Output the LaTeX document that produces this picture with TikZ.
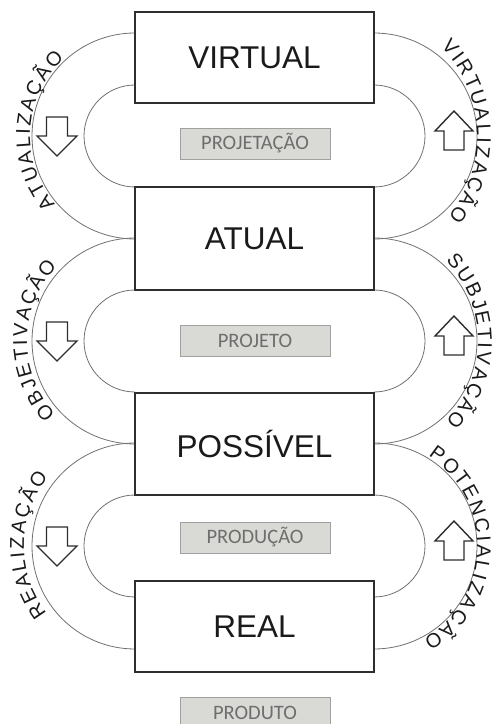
\documentclass[tikz,border=0pt]{standalone}
\usepackage{fontspec}
\setmainfont{Liberation Sans}
\newfontfamily\calfont{Carlito}
\usetikzlibrary{decorations.text}
\definecolor{arcgray}{HTML}{707070}
\definecolor{boxline}{HTML}{2E2E2E}
\definecolor{labfill}{HTML}{D9D9D5}
\definecolor{labline}{HTML}{A0A0A0}
\definecolor{labtext}{HTML}{6E6E6E}
\definecolor{txt}{HTML}{1A1A1A}
\newcommand\arclabelfont{\fontsize{20}{24}\selectfont\color{txt}\kern2.3pt}
\begin{document}
\begin{tikzpicture}[x=1pt,y=1pt,
  stagebox/.style={draw=boxline, line width=1.6pt, fill=white, minimum width=239pt, text=txt, font=\fontsize{31.5}{36}\selectfont, inner sep=0pt},
  tagbox/.style={draw=labline, line width=0.8pt, fill=labfill, minimum width=150pt, minimum height=31pt, text=labtext, font=\calfont\fontsize{20.5}{24}\selectfont, inner sep=0pt},
  loopline/.style={draw=arcgray, line width=0.8pt},
  blockarrow/.style={draw=boxline, line width=1.4pt, fill=white, line join=miter}
]
\useasboundingbox (0,0) rectangle (496,724);

% loops
\foreach \c in {588,383,178}{
  \draw[loopline] (135,\c+103) arc (90:270:103);
  \draw[loopline] (135,\c+51) arc (90:270:51);
  \draw[loopline] (374,\c+103) arc (90:-90:103);
  \draw[loopline] (374,\c+51) arc (90:-90:51);
  \draw[blockarrow] (46.5,\c+19) -- (67.5,\c+19) -- (67.5,\c) -- (77,\c) -- (57,\c-20) -- (37,\c) -- (46.5,\c) -- cycle;
  \draw[blockarrow] (444,\c-14) -- (464,\c-14) -- (464,\c+5) -- (473,\c+5) -- (454,\c+25) -- (435,\c+5) -- (444,\c+5) -- cycle;
}

% stage boxes
\node[stagebox, minimum height=91pt] (virtual) at (254.5,666.5) {VIRTUAL};
\node[stagebox, minimum height=103pt] (atual) at (254.5,485.5) {ATUAL};
\node[stagebox, minimum height=102pt] (possivel) at (254.5,280) {POSSÍVEL};
\node[stagebox, minimum height=91pt] (real) at (254.5,97.5) {REAL};

% tags
\node[tagbox] (projetacao) at (255,580.5) {PROJETAÇÃO};
\node[tagbox] (projeto) at (255,383) {PROJETO};
\node[tagbox] (producao) at (255,186.5) {PRODUÇÃO};
\node[tagbox] (produto) at (255,11.5) {PRODUTO};

% arc labels
\path[decorate, decoration={text along path, text align=center, text={|\arclabelfont|ATUALIZAÇÃO}}]
  ({135+105*cos(247)},{588+105*sin(247)}) arc (247:107:105);
\path[decorate, decoration={text along path, text align=center, text={|\arclabelfont|OBJETIVAÇÃO}}]
  ({135+108*cos(250)},{383+108*sin(250)}) arc (250:110:108);
\path[decorate, decoration={text along path, text align=center, text={|\arclabelfont|REALIZAÇÃO}}]
  ({135+111*cos(250)},{178+111*sin(250)}) arc (250:110:111);
\path[decorate, decoration={text along path, text align=center, text={|\arclabelfont|VIRTUALIZAÇÃO}}]
  ({349+128*cos(60)},{588+128*sin(60)}) arc (60:-54:128);
\path[decorate, decoration={text along path, text align=center, text={|\arclabelfont|SUBJETIVAÇÃO}}]
  ({362+116*cos(65)},{383+116*sin(65)}) arc (65:-64:116);
\path[decorate, decoration={text along path, text align=center, text={|\arclabelfont|POTENCIALIZAÇÃO}}]
  ({369+108*cos(74)},{178+108*sin(74)}) arc (74:-76:108);
\end{tikzpicture}
\end{document}
